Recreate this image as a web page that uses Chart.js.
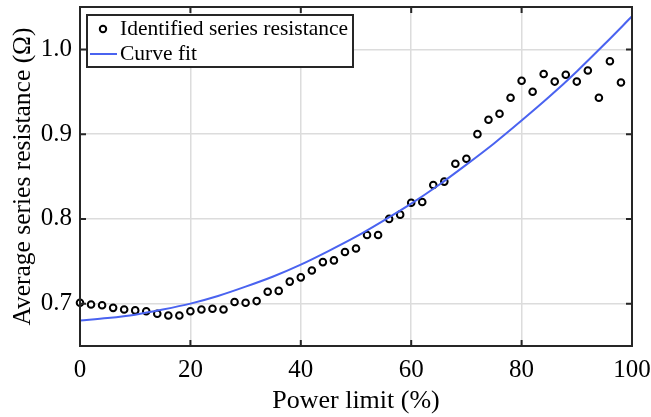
<!DOCTYPE html>
<html>
<head>
<meta charset="utf-8">
<script src="https://cdn.jsdelivr.net/npm/chart.js@4.4.1/dist/chart.umd.min.js"></script>
<style>
  body { margin: 0; background: #fff; }
  #wrap { width: 651px; height: 417px; }
</style>
</head>
<body>
<div id="wrap"><canvas id="chart" width="651" height="417"></canvas></div>
<script>
// power limit (%) for identified points
const powerLimit = [0, 2, 4, 6, 8, 10, 12, 14, 16, 18, 20, 22, 24, 26, 28, 30, 32, 34, 36, 38,
  40, 42, 44, 46, 48, 50, 52, 54, 56, 58, 60, 62, 64, 66, 68, 70, 72, 74, 76, 78,
  80, 82, 84, 86, 88, 90, 92, 94, 96, 98];
// identified series resistance (ohm)
const resistance = [0.701, 0.699, 0.698, 0.695, 0.693, 0.692, 0.691, 0.688, 0.686, 0.686,
  0.691, 0.693, 0.694, 0.693, 0.702, 0.701, 0.703, 0.714, 0.715, 0.726,
  0.731, 0.739, 0.749, 0.751, 0.761, 0.765, 0.781, 0.781, 0.800, 0.805,
  0.819, 0.820, 0.840, 0.844, 0.865, 0.871, 0.900, 0.917, 0.924, 0.943,
  0.963, 0.950, 0.971, 0.962, 0.970, 0.962, 0.975, 0.943, 0.986, 0.961];
// curve fit
const fitX = [0, 5, 10, 15, 20, 25, 30, 35, 40, 45, 50, 55, 60, 65, 70, 75, 80, 85, 90, 95, 100];
const fitY = [0.680, 0.683, 0.687, 0.693, 0.700, 0.709, 0.720, 0.732, 0.746, 0.762, 0.779,
  0.798, 0.818, 0.840, 0.864, 0.889, 0.916, 0.944, 0.974, 1.006, 1.039];
const xTicks = [0, 20, 40, 60, 80, 100];
const yTicks = [0.7, 0.8, 0.9, 1.0];

const axisColor = '#262626';
const fitColor = '#4a63f0';
const serif = "'Liberation Serif', 'Times New Roman', serif";

// box, inward ticks on all four sides, legend in upper left
const framePlugin = {
  id: 'frame',
  afterDraw(chart) {
    const { ctx, chartArea: a, scales: { x, y } } = chart;
    ctx.save();
    ctx.strokeStyle = axisColor;
    ctx.lineWidth = 2;
    ctx.strokeRect(a.left, a.top, a.right - a.left, a.bottom - a.top);
    ctx.beginPath();
    const tl = 6;
    xTicks.forEach(v => {
      const px = x.getPixelForValue(v);
      ctx.moveTo(px, a.bottom); ctx.lineTo(px, a.bottom - tl);
      ctx.moveTo(px, a.top); ctx.lineTo(px, a.top + tl);
    });
    yTicks.forEach(v => {
      const py = y.getPixelForValue(v);
      ctx.moveTo(a.left, py); ctx.lineTo(a.left + tl, py);
      ctx.moveTo(a.right, py); ctx.lineTo(a.right - tl, py);
    });
    ctx.stroke();

    // legend
    const ds = chart.data.datasets;
    const bx = 87, by = 15, bw = 266, bh = 52;
    ctx.fillStyle = '#fff';
    ctx.fillRect(bx, by, bw, bh);
    ctx.lineWidth = 2;
    ctx.strokeStyle = axisColor;
    ctx.strokeRect(bx, by, bw, bh);
    ctx.font = '21.5px ' + serif;
    ctx.fillStyle = '#000';
    ctx.textBaseline = 'middle';
    ctx.fillText(ds[1].label, 120, 29);
    ctx.fillText(ds[0].label, 120, 54);
    ctx.beginPath();
    ctx.arc(103, 29, 3.2, 0, Math.PI * 2);
    ctx.fillStyle = '#fff';
    ctx.fill();
    ctx.strokeStyle = '#000';
    ctx.lineWidth = 2;
    ctx.stroke();
    ctx.beginPath();
    ctx.moveTo(90, 54); ctx.lineTo(117, 54);
    ctx.strokeStyle = fitColor;
    ctx.lineWidth = 2;
    ctx.stroke();
    ctx.restore();
  }
};

new Chart(document.getElementById('chart'), {
  type: 'scatter',
  data: {
    datasets: [
      {
        label: 'Curve fit',
        data: fitX.map((v, i) => ({ x: v, y: fitY[i] })),
        showLine: true,
        borderColor: fitColor,
        borderWidth: 2,
        pointRadius: 0,
        cubicInterpolationMode: 'monotone',
        order: 0
      },
      {
        label: 'Identified series resistance',
        data: powerLimit.map((v, i) => ({ x: v, y: resistance[i] })),
        pointRadius: 3.3,
        pointBorderWidth: 2,
        pointBorderColor: '#000',
        pointBackgroundColor: '#fff',
        clip: false,
        order: 1
      }
    ]
  },
  options: {
    responsive: false,
    animation: false,
    layout: { padding: { top: 7, right: 19, left: 0, bottom: 0 } },
    plugins: { legend: { display: false }, tooltip: { enabled: false } },
    scales: {
      x: {
        min: 0, max: 100,
        afterBuildTicks: s => { s.ticks = xTicks.map(v => ({ value: v })); },
        afterFit: s => { s.height = 71; s.paddingLeft = 0; s.paddingRight = 0; },
        grid: { color: '#dcdcdc', lineWidth: 1.5, drawTicks: false },
        border: { display: false },
        ticks: { color: '#000', padding: 9, font: { family: serif, size: 25 } },
        title: {
          display: true, text: 'Power limit (%)', color: '#000',
          padding: { bottom: 0 },
          font: { family: serif, size: 26 }
        }
      },
      y: {
        min: 0.65, max: 1.05,
        afterBuildTicks: s => { s.ticks = yTicks.map(v => ({ value: v })); },
        afterFit: s => { s.width = 80; s.paddingTop = 0; s.paddingBottom = 0; },
        grid: { color: '#dcdcdc', lineWidth: 1.5, drawTicks: false },
        border: { display: false },
        ticks: {
          color: '#000', padding: 8, font: { family: serif, size: 25 },
          callback: v => v.toFixed(1)
        },
        title: {
          display: true, text: 'Average series resistance (Ω)', color: '#000',
          padding: { top: 8 },
          font: { family: serif, size: 25.5 }
        }
      }
    }
  },
  plugins: [framePlugin]
});
</script>
</body>
</html>
